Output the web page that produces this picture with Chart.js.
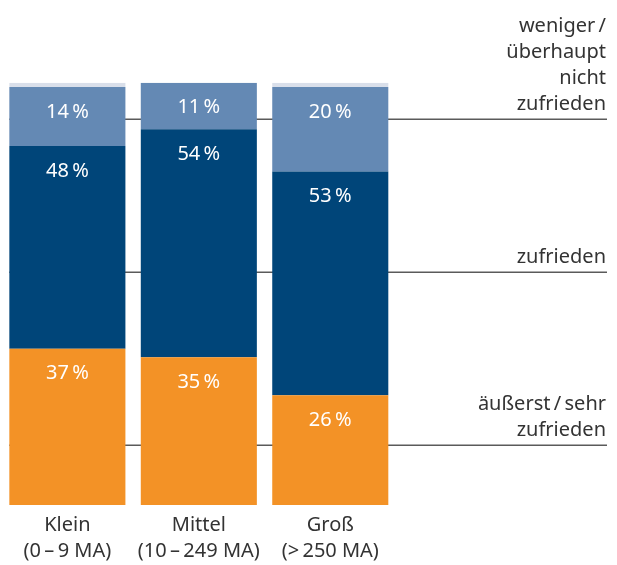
<!DOCTYPE html>
<html>
<head>
<meta charset="utf-8">
<script src="https://cdn.jsdelivr.net/npm/chart.js@4/dist/chart.umd.min.js"></script>
<style>
  html, body { margin: 0; padding: 0; background: #ffffff; }
  #wrap { width: 617px; height: 565px; }
</style>
</head>
<body>
<div id="wrap"><canvas id="c" width="617" height="565"></canvas></div>
<script>
// ---- data ----
const categories = [["Klein", "(0\u2009\u2013\u20099 MA)"], ["Mittel", "(10\u2009\u2013\u2009249 MA)"], ["Groß", "(>\u2009250 MA)"]];
const sehrZufrieden = [37, 35, 26];
const zufrieden = [48, 54, 53];
const wenigerZufrieden = [14, 11, 20];
const keineAngabe = [1, 0, 1];
const seriesNames = ["äußerst / sehr zufrieden", "zufrieden", "weniger / überhaupt nicht zufrieden", "keine Angabe"];
const legendLabels = [["äußerst\u2009/\u2009sehr", "zufrieden"], ["zufrieden"], ["weniger\u2009/", "überhaupt", "nicht", "zufrieden"]];
const legendLevels = [14.2, 55.2, 91.5];

const FONT = "'Noto Sans', 'Open Sans', sans-serif";
const TEXT = "#333333";

const overlay = {
  id: 'overlay',
  beforeDatasetsDraw(chart) {
    const ctx = chart.ctx, y = chart.scales.y;
    const firstBar = chart.getDatasetMeta(0).data[0];
    const x0 = firstBar.x - firstBar.width / 2;
    const xr = 607;
    ctx.save();
    ctx.strokeStyle = "#5a5a5a";
    ctx.lineWidth = 1.5;
    legendLevels.forEach((lv, i) => {
      const py = Math.round(y.getPixelForValue(lv)) + 0.25;
      ctx.beginPath();
      ctx.moveTo(x0, py);
      ctx.lineTo(xr, py);
      ctx.stroke();
      ctx.fillStyle = TEXT;
      ctx.font = "20px " + FONT;
      ctx.textAlign = "right";
      ctx.textBaseline = "alphabetic";
      const lines = legendLabels[i];
      lines.forEach((t, j) => {
        const by = py - 9 - (lines.length - 1 - j) * 26;
        ctx.fillText(t, 606, by);
      });
    });
    ctx.restore();
  },
  afterDatasetsDraw(chart) {
    const ctx = chart.ctx;
    ctx.save();
    ctx.fillStyle = "#ffffff";
    ctx.font = "20px " + FONT;
    ctx.textAlign = "center";
    ctx.textBaseline = "middle";
    for (let d = 0; d < 3; d++) {
      const meta = chart.getDatasetMeta(d);
      const vals = chart.data.datasets[d].data;
      meta.data.forEach((el, i) => {
        ctx.fillText(vals[i] + "\u2009%", el.x, el.y + 25);
      });
    }
    ctx.restore();
  }
};

new Chart(document.getElementById('c'), {
  type: 'bar',
  data: {
    labels: categories,
    datasets: [
      { label: seriesNames[0], data: sehrZufrieden, backgroundColor: "#f39226" },
      { label: seriesNames[1], data: zufrieden, backgroundColor: "#004579" },
      { label: seriesNames[2], data: wenigerZufrieden, backgroundColor: "#6489b4" },
      { label: seriesNames[3], data: keineAngabe, backgroundColor: "#d9dfea" }
    ]
  },
  options: {
    responsive: false,
    devicePixelRatio: 1,
    animation: false,
    layout: { padding: { left: 1.65, right: 221, top: 82.7, bottom: 0 } },
    datasets: { bar: { categoryPercentage: 1, barPercentage: 0.883, borderWidth: 0 } },
    plugins: { legend: { display: false }, tooltip: { enabled: false } },
    scales: {
      x: {
        stacked: true,
        grid: { display: false, drawTicks: false },
        border: { display: false },
        ticks: { color: TEXT, font: { family: FONT, size: 20, lineHeight: 1.3 }, padding: 7, maxRotation: 0, autoSkip: false },
        afterFit(s) { s.height = 60; }
      },
      y: {
        stacked: true, display: false, min: 0, max: 100
      }
    }
  },
  plugins: [overlay]
});
</script>
</body>
</html>
